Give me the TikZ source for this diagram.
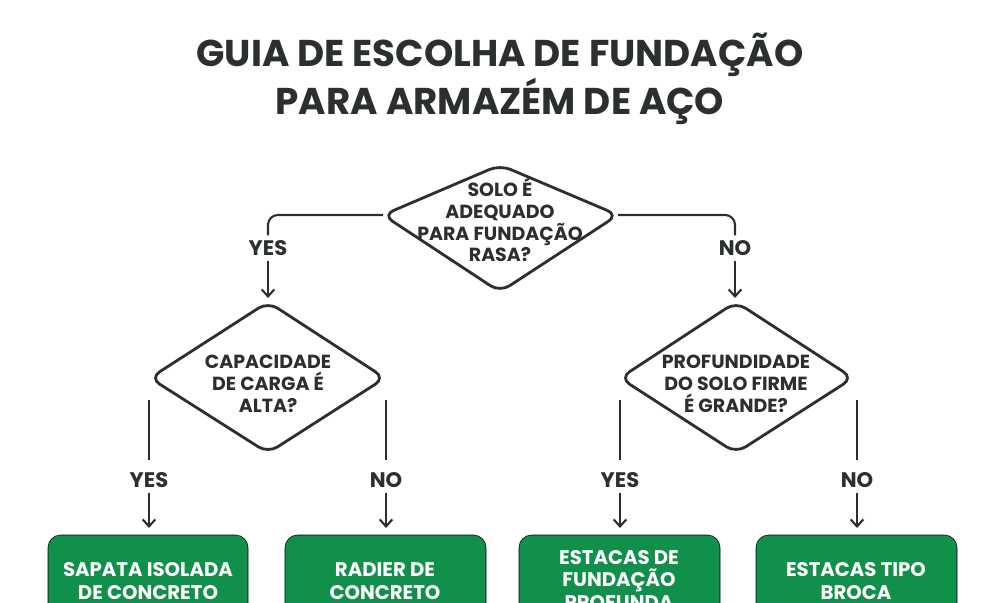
\documentclass[tikz,border=0pt]{standalone}
\usepackage{fontspec}
\setmainfont{Poppins}
\usetikzlibrary{arrows.meta}
\definecolor{ink}{HTML}{2B2F2E}
\definecolor{grn}{HTML}{11904C}
\begin{document}
\begin{tikzpicture}[x=0.025cm,y=-0.025cm,
  dia/.style={draw=ink,line width=2pt,rounded corners=8pt},
  txt/.style={text=ink,font=\bfseries\fontsize{13.5}{15.5}\selectfont,align=center},
  lab/.style={text=ink,font=\bfseries\fontsize{15}{17}\selectfont},
  ln/.style={draw=ink,line width=1.5pt},
  arr/.style={ln,-{Straight Barb[length=5pt,width=9pt,line width=1.5pt]}},
  box/.style={fill=grn,rounded corners=9pt},
  btxt/.style={text=white,font=\bfseries\fontsize{14}{16}\selectfont,align=center}]
\useasboundingbox (0,0) rectangle (1000,603);
\node[text=ink,font=\bfseries\fontsize{26.5}{30}\selectfont,align=center] (title) at (500,79) {GUIA DE ESCOLHA DE FUNDAÇÃO\\PARA ARMAZÉM DE AÇO};
% top diamond
\coordinate (d1l) at (383,215); \coordinate (d1r) at (618,215);
\draw[dia] (d1l) -- (500,165) -- (d1r) -- (500,292) -- cycle;
\node[txt] (d1) at (500,220) {SOLO É\\ADEQUADO\\PARA FUNDAÇÃO\\RASA?};
\node[lab] (y1) at (268,248) {YES};
\node[lab] (n1) at (735,248) {NO};
\draw[ln,rounded corners=7pt] (d1l) -- (268,215) -- (y1.north);
\draw[ln,rounded corners=7pt] (d1r) -- (735,215) -- (n1.north);
% second diamonds
\draw[dia] (150,378) -- (268,302) -- (385,378) -- (268,453) -- cycle;
\node[txt] (d2) at (268,384) {CAPACIDADE\\DE CARGA É\\ALTA?};
\draw[dia] (620,378) -- (736,302) -- (853,378) -- (736,453) -- cycle;
\node[txt] (d3) at (736,384) {PROFUNDIDADE\\DO SOLO FIRME\\É GRANDE?};
\draw[arr] (y1.south) -- (268,298);
\draw[arr] (n1.south) -- (735,298);
% boxes
\draw[box] (48,535) rectangle (248,640);
\draw[box] (285,535) rectangle (486,640);
\draw[box] (519,535) rectangle (720,640);
\draw[box] (756,535) rectangle (957,640);
\node[btxt] (b1) at (148,581) {SAPATA ISOLADA\\DE CONCRETO};
\node[btxt] (b2) at (385,581) {RADIER DE\\CONCRETO};
\node[btxt] (b3) at (619,580) {ESTACAS DE\\FUNDAÇÃO\\PROFUNDA};
\node[btxt] (b4) at (856,581) {ESTACAS TIPO\\BROCA};
% branches
\foreach \x/\t/\n in {149/YES/a,386/NO/b,620/YES/c,857/NO/d}{
  \coordinate (s\n) at (\x,400);
  \node[lab] (l\n) at (\x,480) {\t};
  \draw[ln] (s\n) -- (\x,460);
  \draw[arr] (l\n.south) -- (\x,528);
}
\end{tikzpicture}
\end{document}
